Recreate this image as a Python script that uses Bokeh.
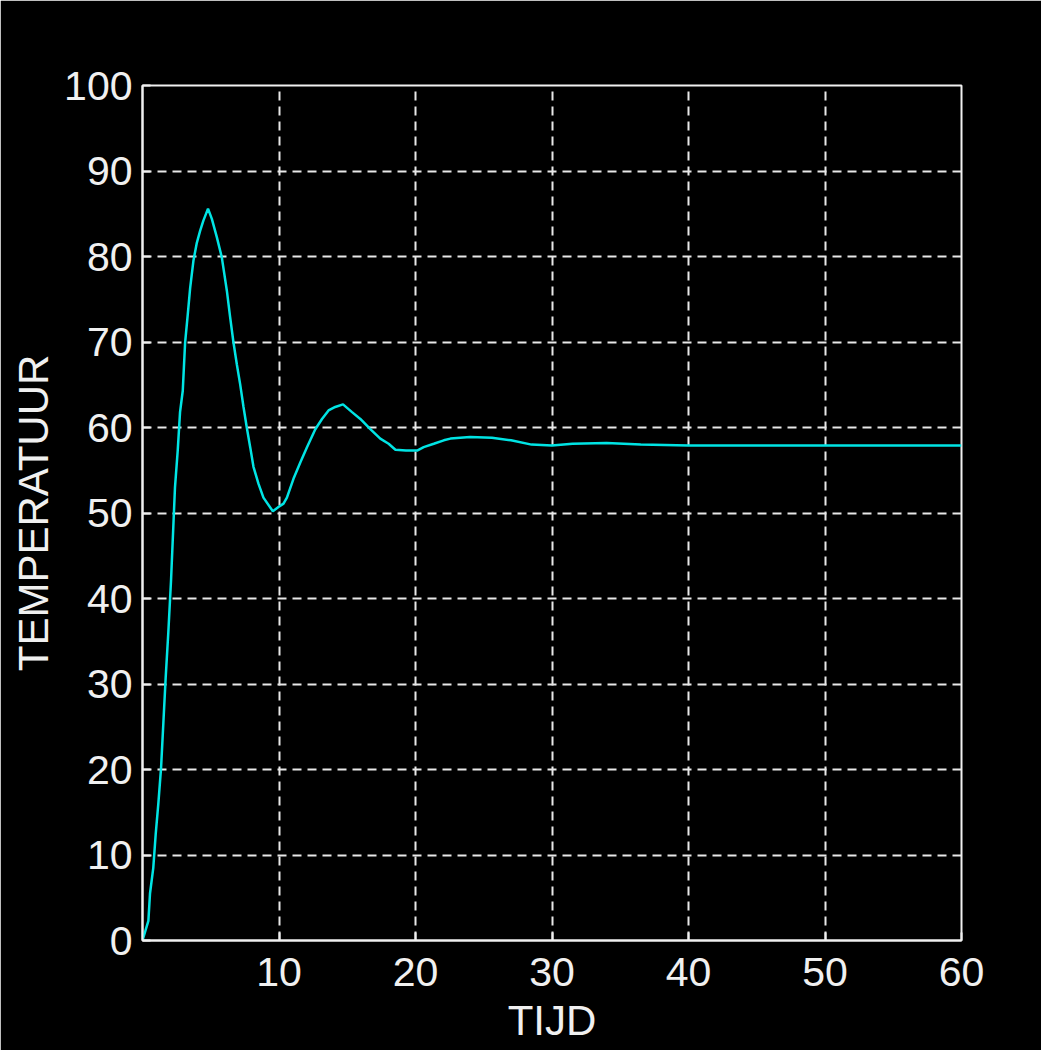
from bokeh.plotting import figure
from bokeh.models import FixedTicker
from bokeh.embed import file_html
from bokeh.resources import INLINE

# Data (time vs. temperature)
tijd = [0.0, 0.43, 0.55, 0.79, 0.97, 1.16, 1.36, 1.53, 1.70, 1.89, 2.09, 2.38, 2.58,
        2.75, 2.95, 3.12, 3.32, 3.49, 3.73, 3.98, 4.22, 4.46, 4.80, 5.08, 5.44, 5.81,
        6.18, 6.42, 6.66, 6.91, 7.15, 7.40, 7.64, 7.89, 8.13, 8.50, 8.86, 9.55, 9.96,
        10.33, 10.58, 11.06, 11.56, 12.05, 12.66, 13.15, 13.63, 14.12, 14.69, 15.35,
        15.96, 16.69, 17.42, 18.03, 18.53, 19.3, 20.12, 20.60, 21.34, 22.07, 22.56,
        24.0, 25.6, 27.0, 28.5, 30.0, 31.5, 34.0, 36.5, 40.0, 50.0, 60.0]
temperatuur = [0.0, 2.3, 5.5, 8.5, 12.5, 16.0, 20.2, 25.5, 30.8, 36.0, 42.1, 53.0, 57.3,
               61.8, 64.3, 69.9, 73.3, 76.3, 79.5, 81.6, 83.0, 84.2, 85.6, 84.4, 82.3, 79.9,
               76.0, 72.9, 70.0, 67.4, 65.1, 62.4, 60.0, 57.7, 55.4, 53.4, 51.8, 50.2, 50.7,
               51.1, 51.8, 54.0, 55.9, 57.7, 59.8, 61.0, 62.0, 62.4, 62.7, 61.8,
               61.0, 59.8, 58.7, 58.1, 57.4, 57.3, 57.3, 57.7, 58.1, 58.5, 58.7,
               58.9, 58.8, 58.5, 58.0, 57.9, 58.1, 58.2, 58.0, 57.9, 57.9, 57.9]

x_ticks = [10, 20, 30, 40, 50, 60]
y_ticks = [0, 10, 20, 30, 40, 50, 60, 70, 80, 90, 100]
x_label = "TIJD"
y_label = "TEMPERATUUR"

FONT = "Liberation Sans"
FG = "#f0f0f0"

p = figure(frame_width=819, frame_height=855,
           x_range=(0, 60), y_range=(0, 100),
           output_backend="svg", toolbar_location=None,
           background_fill_color="black", border_fill_color="black",
           min_border_left=142, min_border_right=80,
           min_border_top=85, min_border_bottom=110)

p.outline_line_color = FG
p.outline_line_width = 2

p.line(tijd, temperatuur, line_color="#00e4e4", line_width=2.5)

for ax in (p.xaxis[0], p.yaxis[0]):
    ax.axis_line_color = FG
    ax.axis_line_width = 2
    ax.major_tick_line_color = FG
    ax.major_tick_line_width = 2
    ax.major_tick_in = 8
    ax.major_tick_out = 0
    ax.minor_tick_line_color = None
    ax.major_label_text_font = FONT
    ax.major_label_text_font_size = "41px"
    ax.major_label_text_color = FG
    ax.axis_label_text_font = FONT
    ax.axis_label_text_font_size = "42px"
    ax.axis_label_text_font_style = "normal"
    ax.axis_label_text_color = FG

p.xaxis.ticker = FixedTicker(ticks=x_ticks)
p.yaxis.ticker = FixedTicker(ticks=y_ticks)
p.xaxis.axis_label = x_label
p.yaxis.axis_label = y_label
p.xaxis.major_label_standoff = 17
p.yaxis.major_label_standoff = 10
p.xaxis.axis_label_standoff = 8
p.yaxis.axis_label_standoff = 4

for g in (p.xgrid[0], p.ygrid[0]):
    g.grid_line_color = "#e8e8e8"
    g.grid_line_width = 2
    g.grid_line_dash = "9 6"
p.xgrid.ticker = FixedTicker(ticks=x_ticks)
p.ygrid.ticker = FixedTicker(ticks=y_ticks)

open("out.html", "w").write(file_html(p, INLINE))
